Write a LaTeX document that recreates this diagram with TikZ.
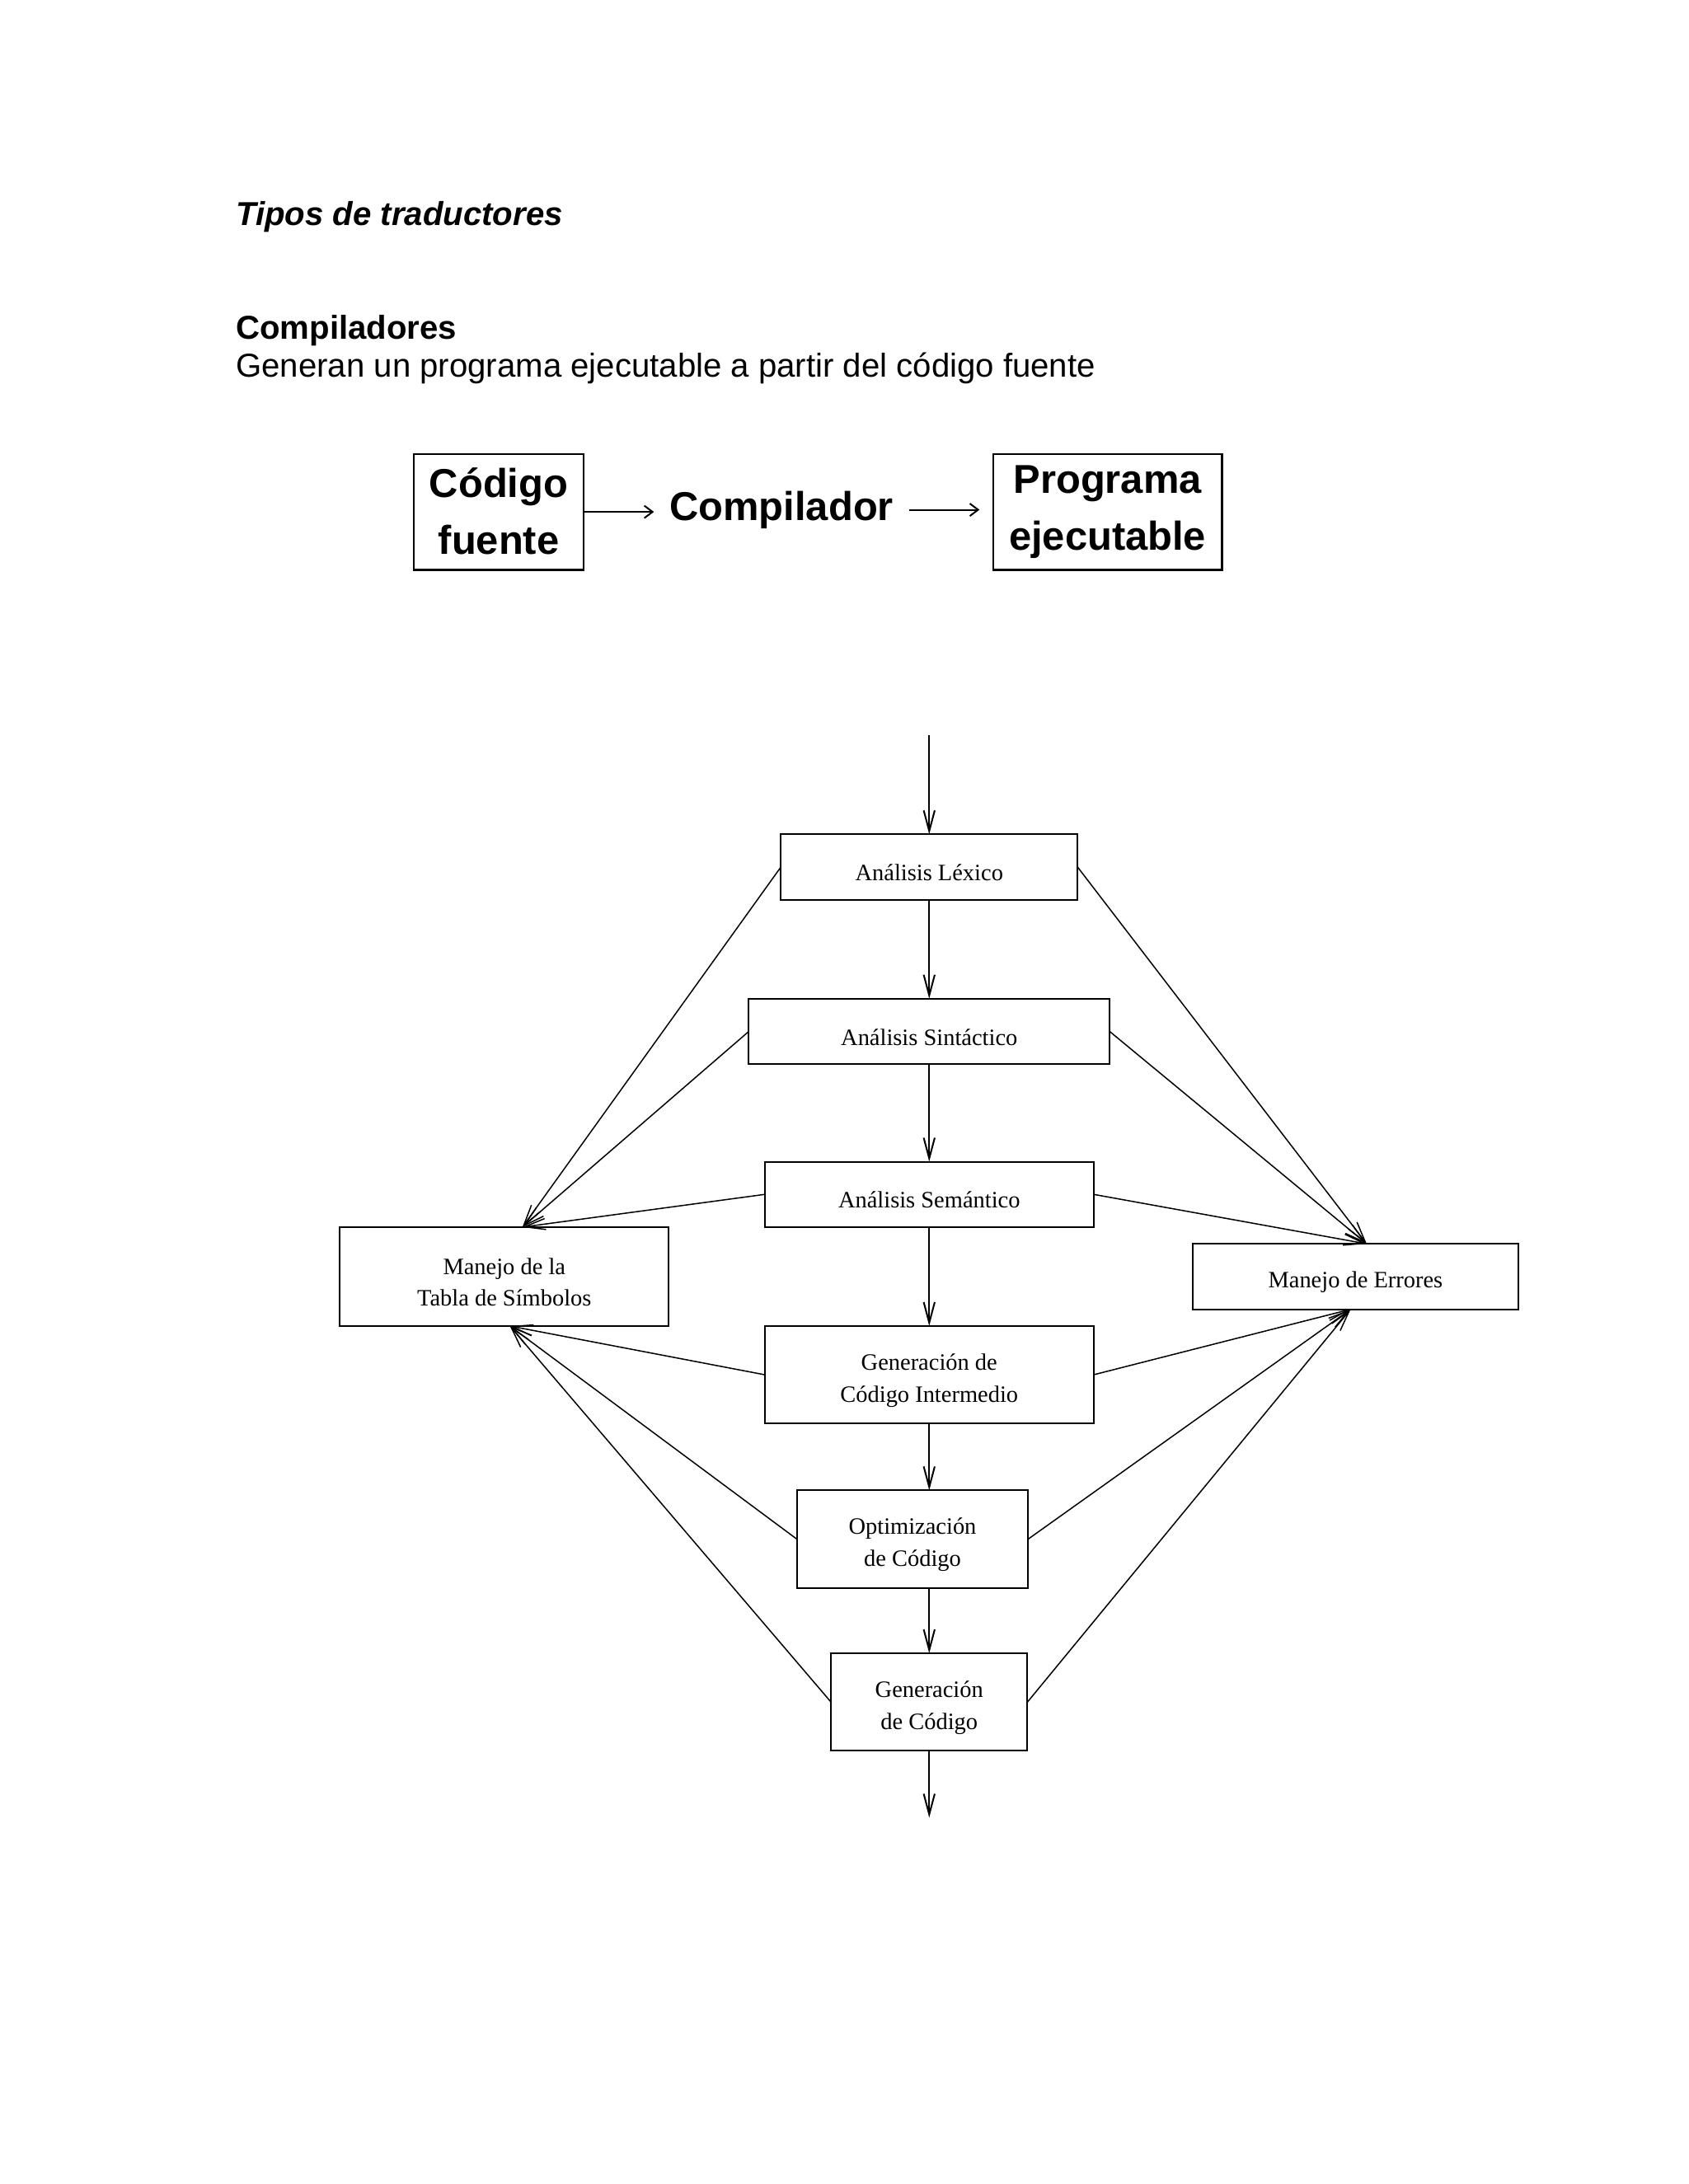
\documentclass[tikz,border=0pt]{standalone}
\usepackage{fontspec}
\setmainfont{Liberation Serif}
\newfontfamily\arialf{Liberation Sans}
\usetikzlibrary{arrows.meta}
\def\pxu{0.50495pt}
\newcommand\boxstrut{\rule{0pt}{10pt}}
\begin{document}
\begin{tikzpicture}[x=0.50495pt,y=-0.50495pt,
  heading/.style={anchor=base west,inner sep=0pt,font=\arialf\fontsize{12pt}{14pt}\selectfont},
  bigbox/.style={draw,line width=0.8pt,inner sep=0pt,outer sep=0pt,align=center,
    font=\arialf\bfseries\fontsize{14.6pt}{20.7pt}\selectfont},
  bigtext/.style={inner xsep=5.5pt,inner ysep=0pt,font=\arialf\bfseries\fontsize{14.6pt}{17pt}\selectfont},
  toparrow/.style={line width=0.6pt,-{Straight Barb[length=3pt,width=4.5pt]}},
  box/.style={draw,line width=0.6pt,inner sep=0pt,outer sep=0pt,align=center,
    font=\fontsize{8.5pt}{11.6pt}\selectfont},
  flow/.style={line width=0.6pt,-{Straight Barb[length=7.5pt,width=4pt]}},
  diag/.style={line width=0.45pt,-{Straight Barb[length=7.5pt,width=4pt]}}
]
\useasboundingbox (0,0) rectangle (1212,1568);

% headings
\node[heading,font=\arialf\bfseries\itshape\fontsize{12pt}{14pt}\selectfont] (h1) at (169,162) {Tipos de traductores};
\node[heading,font=\arialf\bfseries\fontsize{12pt}{14pt}\selectfont] (h2) at (169,243.6) {Compiladores};
\node[heading] (h3) at (169,270.5) {Generan un programa ejecutable a partir del código fuente};

% upper diagram
\node[bigbox,minimum width={122*\pxu},minimum height={83*\pxu}] (cf) at (358,367.5) {\smash{Código}\rule{0pt}{10.4pt}\\fuente};
\node[bigtext] (comp) at (561,366) {Compilador};
\node[bigbox,minimum width={164*\pxu},minimum height={83*\pxu}] (prog) at (795,367.5) {Programa\\ejecutable};
\draw[toparrow] (cf.east) -- (cf.east -| comp.west);
\draw[toparrow,shorten >=5pt] (comp.east) -- (comp.east -| prog.west);

% lower diagram
\node[box,minimum width={213*\pxu},minimum height={47*\pxu}] (lex) at (667,622.5) {\boxstrut Análisis Léxico};
\node[box,minimum width={259*\pxu},minimum height={47*\pxu}] (sin) at (667,740.5) {\boxstrut Análisis Sintáctico};
\node[box,minimum width={236*\pxu},minimum height={47*\pxu}] (sem) at (667,857.5) {\boxstrut Análisis Semántico};
\node[box,minimum width={236*\pxu},minimum height={71*\pxu}] (tab) at (362,916.5) {\boxstrut Manejo de la\\Tabla de Símbolos};
\node[box,minimum width={234*\pxu},minimum height={47*\pxu}] (err) at (973,916.5) {\boxstrut Manejo de Errores};
\node[box,minimum width={236*\pxu},minimum height={70*\pxu}] (gi) at (667,987) {\boxstrut Generación de\\Código Intermedio};
\node[box,minimum width={166*\pxu},minimum height={70*\pxu}] (opt) at (655,1105) {\boxstrut Optimización\\de Código};
\node[box,minimum width={141*\pxu},minimum height={70*\pxu}] (gc) at (667,1222) {\boxstrut Generación\\de Código};

\coordinate (in) at (667,528);
\coordinate (out) at (667,1305);
\path (tab.north) ++(13,0) coordinate (tt);
\path (tab.south) ++(4,0) coordinate (tb);
\path (err.north) ++(8,0) coordinate (et);
\path (err.south) ++(-3.5,0) coordinate (eb);

% main flow
\draw[flow] (in) -- (lex.north);
\draw[flow] (lex.south) -- (sin.north);
\draw[flow] (sin.south) -- (sem.north);
\draw[flow] (sem.south) -- (gi.north);
\draw[flow] (gi.south) -- (gi.south |- opt.north);
\draw[flow] (gc.north |- opt.south) -- (gc.north);
\draw[flow] (gc.south) -- (out);

% to symbol table
\draw[diag] (lex.west) -- (tt);
\draw[diag] (sin.west) -- (tt);
\draw[diag] (sem.west) -- (tt);
\draw[diag] (gi.west) -- (tb);
\draw[diag] (opt.west) -- (tb);
\draw[diag] (gc.west) -- (tb);

% to error handling
\draw[diag] (lex.east) -- (et);
\draw[diag] (sin.east) -- (et);
\draw[diag] (sem.east) -- (et);
\draw[diag] (gi.east) -- (eb);
\draw[diag] (opt.east) -- (eb);
\draw[diag] (gc.east) -- (eb);
\end{tikzpicture}
\end{document}
